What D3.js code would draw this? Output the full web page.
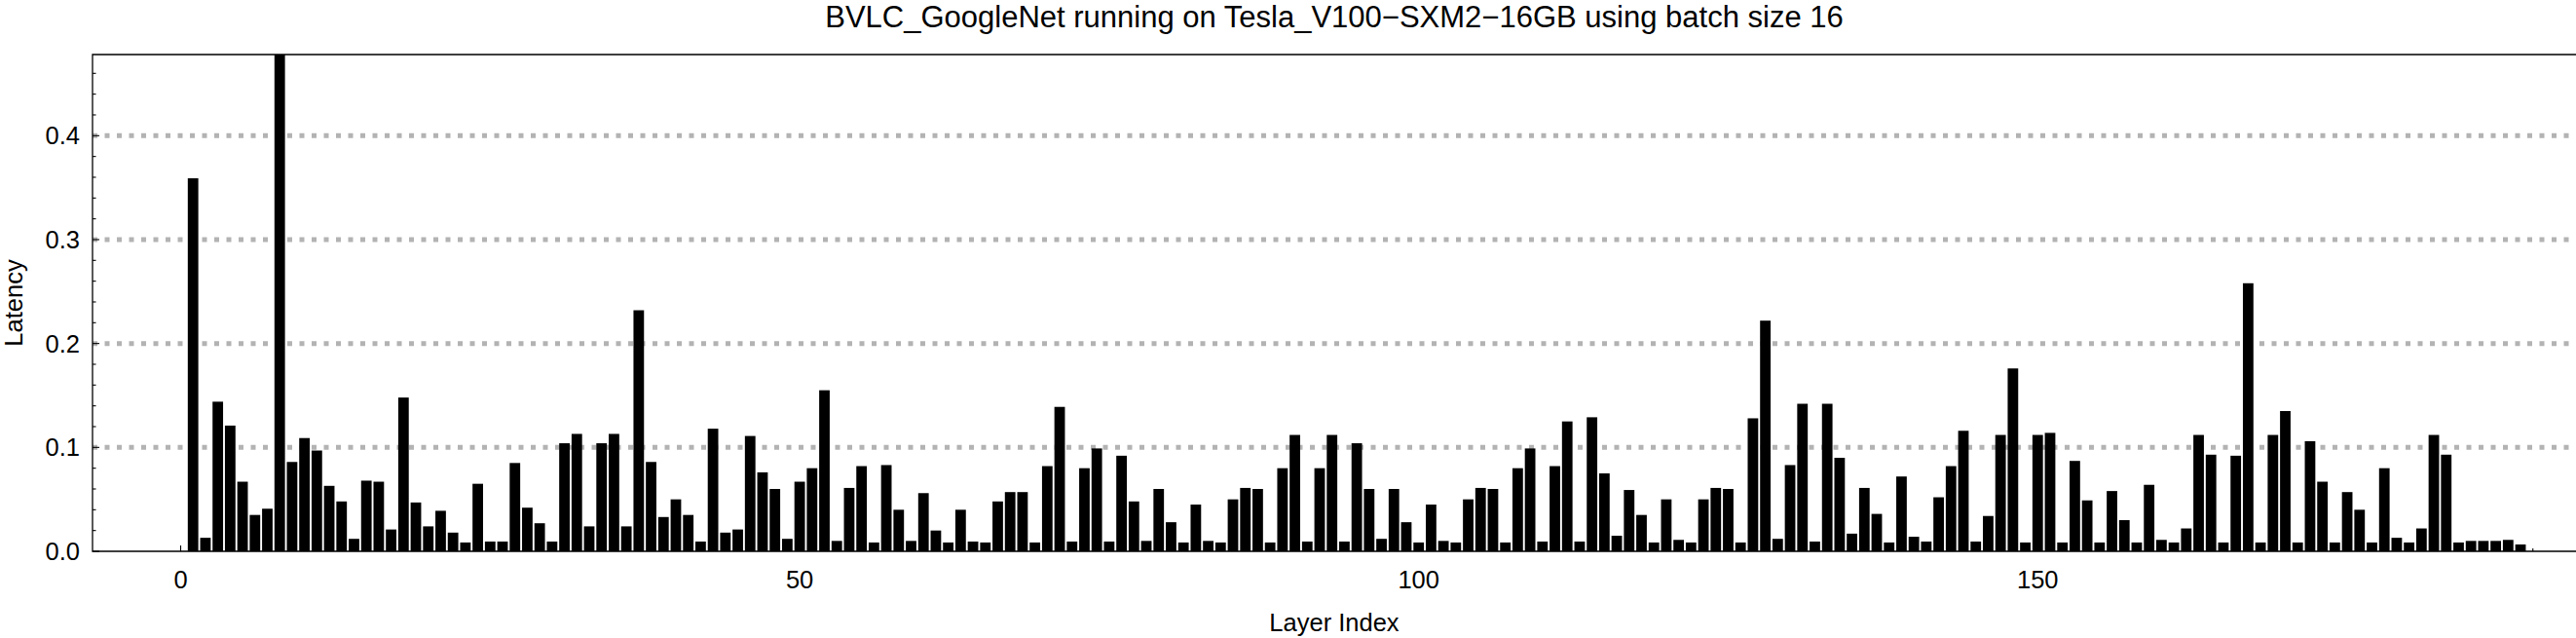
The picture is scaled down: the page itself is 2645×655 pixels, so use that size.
<!DOCTYPE html>
<html>
<head>
<meta charset="utf-8">
<script src="https://cdn.jsdelivr.net/npm/d3@7"></script>
<style>
  html, body { margin: 0; padding: 0; background: #fff; }
  svg { display: block; }
  text { font-family: "Liberation Sans", Arial, sans-serif; fill: #000; }
</style>
</head>
<body>
<svg id="chart" width="2645" height="655"></svg>
<script>
// ---- data ----
const title = "BVLC_GoogleNet running on Tesla_V100\u2212SXM2\u221216GB using batch size 16";
const xLabel = "Layer Index";
const yLabel = "Latency";
const xTickLabels = [0, 50, 100, 150];
const yTickLabels = [0.0, 0.1, 0.2, 0.3, 0.4];
// latency per layer, layers 1..189 (layer 8 exceeds the plot range and is clipped)
const latency = [
  0.359, 0.013, 0.144, 0.121, 0.067, 0.035, 0.041, 0.620, 0.086, 0.109,
  0.097, 0.063, 0.048, 0.012, 0.068, 0.067, 0.021, 0.148, 0.047, 0.024,
  0.039, 0.018, 0.0085, 0.065, 0.0094, 0.0094, 0.085, 0.042, 0.027, 0.0094,
  0.104, 0.113, 0.024, 0.104, 0.113, 0.024, 0.232, 0.086, 0.033, 0.050,
  0.035, 0.0094, 0.118, 0.018, 0.021, 0.111, 0.076, 0.060, 0.012, 0.067,
  0.080, 0.155, 0.010, 0.061, 0.082, 0.0085, 0.083, 0.040, 0.010, 0.056,
  0.020, 0.0085, 0.040, 0.0094, 0.0085, 0.048, 0.057, 0.057, 0.0085, 0.082,
  0.139, 0.0094, 0.080, 0.099, 0.0094, 0.092, 0.048, 0.010, 0.060, 0.028,
  0.0085, 0.045, 0.010, 0.0085, 0.050, 0.061, 0.060, 0.0085, 0.080, 0.112,
  0.0094, 0.080, 0.112, 0.0094, 0.104, 0.060, 0.012, 0.060, 0.028, 0.0085,
  0.045, 0.010, 0.0085, 0.050, 0.061, 0.060, 0.0085, 0.080, 0.099, 0.0094,
  0.082, 0.125, 0.0094, 0.129, 0.075, 0.015, 0.059, 0.035, 0.0085, 0.050,
  0.011, 0.0085, 0.050, 0.061, 0.060, 0.0085, 0.128, 0.222, 0.012, 0.083,
  0.142, 0.0094, 0.142, 0.090, 0.017, 0.061, 0.036, 0.0085, 0.072, 0.014,
  0.0094, 0.052, 0.082, 0.116, 0.0094, 0.034, 0.112, 0.176, 0.0085, 0.112,
  0.114, 0.0085, 0.087, 0.049, 0.0085, 0.058, 0.030, 0.0085, 0.064, 0.011,
  0.0085, 0.022, 0.112, 0.093, 0.0085, 0.092, 0.258, 0.0085, 0.112, 0.135,
  0.0085, 0.106, 0.067, 0.0085, 0.057, 0.040, 0.0085, 0.080, 0.013, 0.0085,
  0.022, 0.112, 0.093, 0.0085, 0.010, 0.010, 0.010, 0.011, 0.0066
];
const layerIndex = latency.map((_, i) => i + 1);

(function draw() {
  // ---- layout ----
  const W = 2645, H = 655;
  const mLeft = 95, mTop = 56, mBottom = 566, mRight = 2691;
  const svg = d3.select("#chart");

  const x = d3.scaleLinear().domain([-7.12, 197.1]).range([mLeft, mRight]);
  const y = d3.scaleLinear().domain([0, 0.4781]).range([mBottom, mTop]);
  const step = x(1) - x(0);
  const barW = step * 0.85;

  svg.append("defs").append("clipPath").attr("id", "plotClip")
    .append("rect").attr("x", mLeft).attr("y", mTop)
    .attr("width", mRight - mLeft).attr("height", mBottom - mTop);

  // grid lines
  svg.append("g").selectAll("line").data(yTickLabels.filter(v => v > 0)).join("line")
    .attr("x1", mLeft).attr("x2", W)
    .attr("y1", d => y(d)).attr("y2", d => y(d))
    .attr("stroke", "#b3b3b3").attr("stroke-width", 5)
    .attr("stroke-dasharray", "5,7.5");

  // bars
  svg.append("g").attr("clip-path", "url(#plotClip)")
    .selectAll("rect").data(latency).join("rect")
    .attr("x", (d, i) => x(layerIndex[i]) - barW / 2)
    .attr("width", barW)
    .attr("y", d => y(d))
    .attr("height", d => y(0) - y(d))
    .attr("fill", "#000");

  // frame
  svg.append("path")
    .attr("d", `M${W + 5},${mTop} H${mLeft} V${mBottom} H${W + 5}`)
    .attr("fill", "none").attr("stroke", "#000").attr("stroke-width", 1.3);

  // y ticks (inside)
  const yMinor = d3.range(0, 0.4781, 0.02);
  svg.append("g").selectAll("line").data(yMinor).join("line")
    .attr("x1", mLeft)
    .attr("x2", d => mLeft + (Math.abs(d * 10 - Math.round(d * 10)) < 1e-6 ? 7 : 3.5))
    .attr("y1", d => y(d)).attr("y2", d => y(d))
    .attr("stroke", "#000").attr("stroke-width", 1.1);

  // x ticks
  const xTicksAll = d3.range(0, 191, 10);
  svg.append("g").selectAll("line").data(xTicksAll).join("line")
    .attr("x1", d => x(d)).attr("x2", d => x(d))
    .attr("y1", mBottom).attr("y2", d => mBottom - (d % 50 === 0 ? 6 : 3))
    .attr("stroke", "#000").attr("stroke-width", 1.1);

  // tick labels
  svg.append("g").selectAll("text").data(xTickLabels).join("text")
    .attr("x", d => x(d)).attr("y", 603.5)
    .attr("text-anchor", "middle").attr("font-size", 25.5)
    .text(d => d);

  svg.append("g").selectAll("text").data(yTickLabels).join("text")
    .attr("x", 82).attr("y", d => y(d) + 9)
    .attr("text-anchor", "end").attr("font-size", 25.5)
    .text(d => d.toFixed(1));

  // axis labels
  svg.append("text").attr("x", (mLeft + W) / 2).attr("y", 648)
    .attr("text-anchor", "middle").attr("font-size", 25.5).text(xLabel);
  svg.append("text")
    .attr("transform", `translate(23,${(mTop + mBottom) / 2}) rotate(-90)`)
    .attr("text-anchor", "middle").attr("font-size", 25.5).text(yLabel);

  // title
  svg.append("text").attr("x", (mLeft + W) / 2).attr("y", 28)
    .attr("text-anchor", "middle").attr("font-size", 31).text(title);
})();
</script>
</body>
</html>
